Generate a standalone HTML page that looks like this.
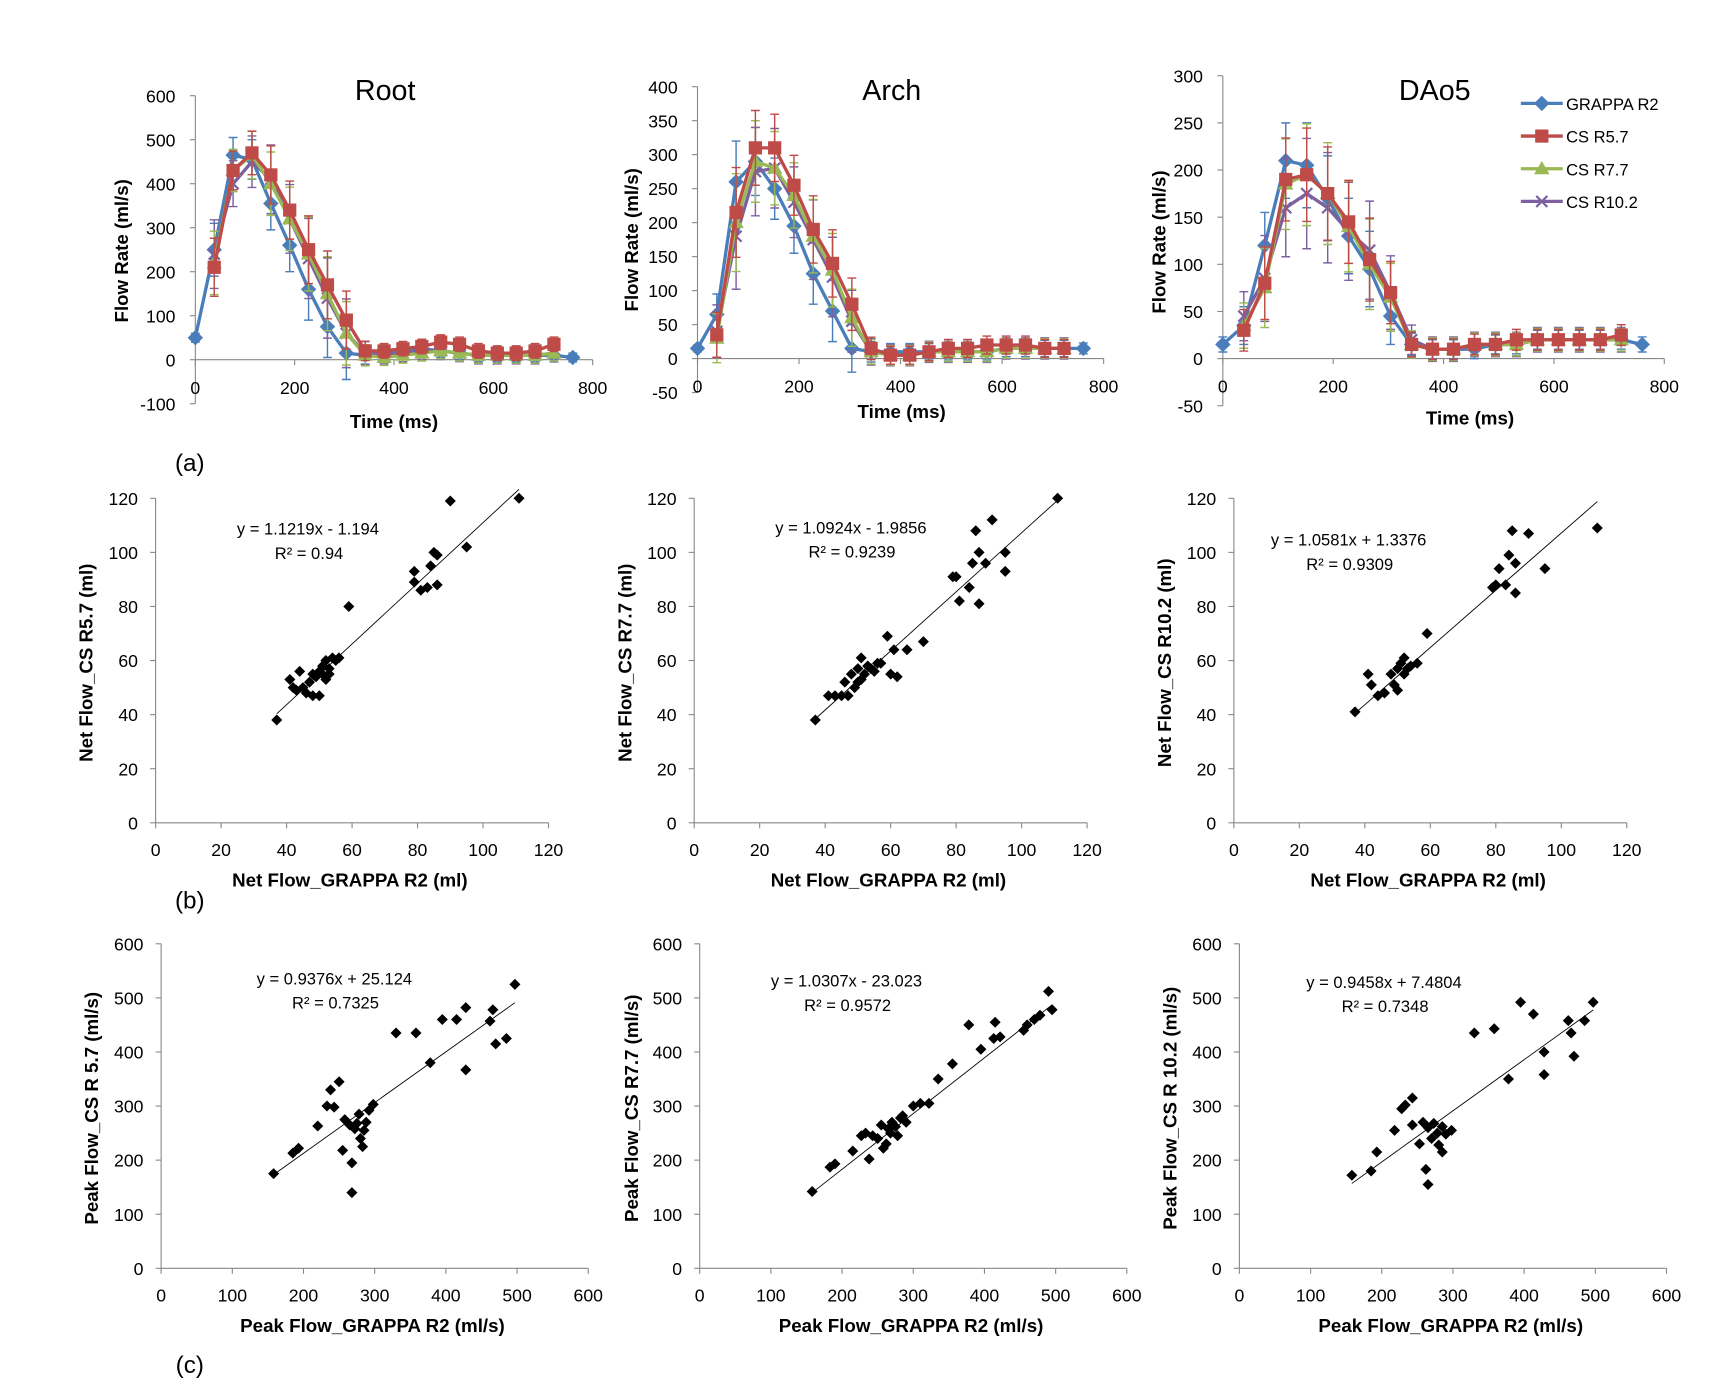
<!DOCTYPE html>
<html><head><meta charset="utf-8"><style>
html,body{margin:0;padding:0;background:#fff}
svg{display:block;font-family:"Liberation Sans",Arial,sans-serif}
</style></head><body>
<svg id="fig" width="1725" height="1397" viewBox="0 0 1563 1270" preserveAspectRatio="none" xmlns="http://www.w3.org/2000/svg"></svg>
<script>
// ---------- DATA ----------
const times = [0,38,76,114,152,190,228,266,304,342,380,418,456,494,532,570,608,646,684,722,760];
const seriesNames = ["GRAPPA R2","CS R5.7","CS R7.7","CS R10.2"];
const rootGrappa = [50,250,465,455,355,260,160,75,15,10,15,20,25,20,15,10,10,10,10,10,5];
const rootCS57 = [null,210,430,470,420,340,250,170,90,20,20,25,30,40,35,20,15,15,20,35,null];
const rootCS77 = [null,220,430,465,400,320,240,150,60,10,5,10,15,20,15,10,10,10,10,15,null];
const rootCS102 = [null,240,400,450,410,320,230,140,60,15,10,15,20,20,15,10,10,10,10,15,null];
const rootErr = [10,60,40,45,60,60,70,70,60,20,15,15,15,15,15,15,15,15,15,15,10];
const archGrappa = [15,65,260,290,250,195,125,70,15,10,10,10,10,10,10,10,15,15,15,15,15];
const archCS57 = [null,35,215,310,310,255,190,140,80,15,5,5,10,15,15,20,20,20,15,15,null];
const archCS77 = [null,30,200,290,280,240,180,130,60,10,5,5,10,10,10,10,15,15,15,15,null];
const archCS102 = [null,40,180,275,280,230,175,120,55,10,5,5,10,10,10,10,15,15,15,15,null];
const archErr = [5,30,60,50,45,40,45,45,35,15,12,12,12,12,12,12,12,12,12,12,8];
const daoGrappa = [15,35,120,210,205,170,130,95,45,15,10,10,10,15,15,20,20,20,20,20,15];
const daoCS57 = [null,30,80,190,195,175,145,105,70,15,10,10,15,15,20,20,20,20,20,25,null];
const daoCS77 = [null,35,75,185,195,175,140,100,65,15,10,10,15,15,15,20,20,20,20,20,null];
const daoCS102 = [null,45,85,160,175,160,135,115,70,20,10,10,15,15,15,20,20,20,20,20,null];
const daoErr = [8,20,35,40,45,45,40,40,30,12,10,10,10,10,10,10,10,10,10,10,8];

const netX1 = [37,41,42,43,44,45,46,47,48,48,49,50,50,51,51,52,52,53,53,54,55,56,59,79,79,81,83,84,85,86,86,90,95,111];
const netY1 = [38,53,50,49,56,50,48,52,55,47,54,56,47,55,58,53,60,55,57,61,60,61,80,93,89,86,87,95,100,99,88,119,102,120];
const netX2 = [37,41,43,45,46,47,48,49,50,50,51,51,52,53,54,55,56,57,59,60,61,62,65,70,79,80,81,84,85,86,87,87,89,91,95,95,111];
const netY2 = [38,47,47,47,52,47,55,50,52,57,53,61,55,58,57,56,59,59,69,55,64,54,64,67,91,91,82,87,96,108,100,81,96,112,93,100,120];
const netX3 = [37,41,42,44,46,48,49,50,50,51,52,52,53,54,56,59,79,80,81,83,84,85,86,86,90,95,111];
const netY3 = [41,55,51,47,48,55,51,57,49,59,55,61,57,58,59,70,87,88,94,88,99,108,96,85,107,94,109];

const peakX1 = [158,185,193,220,233,238,243,250,255,258,265,268,268,272,275,278,280,283,285,288,292,298,330,358,378,395,415,428,428,462,466,470,485,497];
const peakY1 = [175,213,222,263,300,330,298,345,218,275,265,195,140,258,268,285,240,225,255,270,292,303,435,435,380,460,460,482,367,457,478,415,425,525];
const peakX2 = [158,183,190,215,227,233,238,243,250,255,258,262,265,268,270,275,278,282,285,290,300,310,322,335,355,378,395,413,415,422,455,460,470,478,490,495];
const peakY2 = [142,187,193,217,245,250,202,245,240,265,222,230,258,250,270,262,245,278,282,270,300,305,305,350,378,450,405,425,455,428,440,450,460,468,512,478];
const peakX3 = [158,185,193,218,228,233,243,243,253,258,262,265,265,270,273,278,280,285,285,290,298,330,358,378,395,413,428,428,462,466,470,485,497];
const peakY3 = [172,180,215,255,295,302,315,265,230,270,183,155,260,240,268,250,228,215,262,248,255,435,443,350,492,470,358,400,458,435,392,458,492];

const xTicksTime = [0,200,400,600,800];
const netTicks = [0,20,40,60,80,100,120];
const peakTicks = [0,100,200,300,400,500,600];

// ---------- HELPERS ----------
const svg = document.getElementById('fig');
const NS = "http://www.w3.org/2000/svg";
function mk(tag, attrs, parent, text){
  const e = document.createElementNS(NS, tag);
  for (const k in attrs) e.setAttribute(k, attrs[k]);
  if (text !== undefined) e.textContent = text;
  (parent||svg).appendChild(e);
  return e;
}
function txt(x,y,s,size,anchor,parent,weight,rot){
  const a = {x:x,y:y,'font-size':size,'text-anchor':anchor||'middle',fill:'#000'};
  if (weight) a['font-weight']=weight;
  if (rot) a.transform = `rotate(-90 ${x} ${y})`;
  return mk('text',a,parent,s);
}
const colors = ["#4a7ebb","#be4b48","#98b954","#7d60a0"];

function marker(g,type,x,y,c){
  let m;
  if (type===0) m = mk('polygon',{points:`${x},${y-7} ${x+7},${y} ${x},${y+7} ${x-7},${y}`,fill:c},g);
  else if (type===1) m = mk('rect',{x:x-6,y:y-6,width:12,height:12,fill:c},g);
  else if (type===2) m = mk('polygon',{points:`${x},${y-7} ${x+7},${y+5} ${x-7},${y+5}`,fill:c},g);
  else m = mk('path',{d:`M${x-5} ${y-5}L${x+5} ${y+5}M${x-5} ${y+5}L${x+5} ${y-5}`,stroke:c,'stroke-width':2},g);
  
  
  return m;
}

// ---------- TIME-SERIES CHARTS ----------
function timeChart(cfg){
  const g = mk('g',{});
  const X = v => cfg.x0 + (v/800)*(cfg.x1-cfg.x0);
  const Y = v => cfg.yZero - v*cfg.ppu;
  mk('line',{x1:cfg.x0,y1:Y(cfg.yMax),x2:cfg.x0,y2:Y(cfg.yMin),stroke:'#888','stroke-width':1,},g);
  mk('line',{x1:cfg.x0,y1:Y(0),x2:cfg.x1,y2:Y(0),stroke:'#888','stroke-width':1,},g);
  for (let v=cfg.yMin; v<=cfg.yMax; v+=cfg.yStep){
    mk('line',{x1:cfg.x0-5,y1:Y(v),x2:cfg.x0,y2:Y(v),stroke:'#888'},g);
    const t=txt(cfg.x0-18,Y(v)+6,String(v),16,'end',g);  
  }
  xTicksTime.forEach(v=>{
    mk('line',{x1:X(v),y1:Y(0),x2:X(v),y2:Y(0)+5,stroke:'#888'},g);
    const t=txt(X(v),Y(0)+31,String(v),16,'middle',g);  
  });
  const tt=txt((cfg.x0+cfg.x1)/2-8,83+8,cfg.title,26,'middle',g);  
  const yt=txt(cfg.ytx,cfg.ytY,'Flow Rate (ml/s)',17,'middle',g,'bold',true);  
  const xt=txt(cfg.xtX,cfg.xtY,'Time (ms)',17,'middle',g,'bold');  
  const order=[0,3,2,1];
  order.forEach(si=>{
    const data = cfg.series[si];
    const sg = mk('g',{},g);
    let d='';
    data.forEach((v,i)=>{ if(v===null) return; d += (d?'L':'M')+X(times[i])+' '+Y(v); });
    data.forEach((v,i)=>{
      if(v===null) return;
      const e = cfg.err[i]*(1+si*0.1);
      const x=X(times[i]);
      mk('path',{d:`M${x} ${Y(v-e)}L${x} ${Y(v+e)}M${x-4} ${Y(v-e)}L${x+4} ${Y(v-e)}M${x-4} ${Y(v+e)}L${x+4} ${Y(v+e)}`,stroke:colors[si],'stroke-width':1.3,fill:'none'},sg);
    });
    const p = mk('path',{d:d,stroke:colors[si],'stroke-width':3,fill:'none','stroke-linejoin':'round'},sg);
    
    
    data.forEach((v,i)=>{ if(v===null) return; marker(sg,si,X(times[i]),Y(v),colors[si]); });
  });
}
timeChart({name:'root-chart',title:'Root',x0:177,x1:537,yZero:327,ppu:0.4,yMin:-100,yMax:600,yStep:100,ytx:116,ytY:228,xtX:357,xtY:389,
  series:[rootGrappa,rootCS57,rootCS77,rootCS102],err:rootErr});
timeChart({name:'arch-chart',title:'Arch',x0:632,x1:1000,yZero:326,ppu:30.9/50,yMin:-50,yMax:400,yStep:50,ytx:578,ytY:218,xtX:817,xtY:380,
  series:[archGrappa,archCS57,archCS77,archCS102],err:archErr});
timeChart({name:'dao5-chart',title:'DAo5',x0:1108,x1:1508,yZero:326,ppu:42.86/50,yMin:-50,yMax:300,yStep:50,ytx:1056,ytY:220,xtX:1332,xtY:386,
  series:[daoGrappa,daoCS57,daoCS77,daoCS102],err:daoErr});

const lg = mk('g',{});
seriesNames.forEach((n,i)=>{
  const y = 94 + i*29.7;
  const eg = mk('g',{},lg);
  mk('line',{x1:1378,y1:y,x2:1416,y2:y,stroke:colors[i],'stroke-width':3},eg);
  marker(eg,i,1397,y,colors[i]);
  txt(1419,y+6,n,15,'start',eg);
});

// ---------- SCATTER CHARTS ----------
function scatter(cfg){
  const g = mk('g',{});
  const max = cfg.ticks[cfg.ticks.length-1];
  const X = v => cfg.x0 + v/max*(cfg.x1-cfg.x0);
  const Y = v => cfg.y0 - v/max*(cfg.y0-cfg.y1);
  mk('line',{x1:cfg.x0,y1:cfg.y1,x2:cfg.x0,y2:cfg.y0,stroke:'#888',},g);
  mk('line',{x1:cfg.x0,y1:cfg.y0,x2:cfg.x1,y2:cfg.y0,stroke:'#888',},g);
  cfg.ticks.forEach(v=>{
    mk('line',{x1:cfg.x0-5,y1:Y(v),x2:cfg.x0,y2:Y(v),stroke:'#888'},g);
    mk('line',{x1:X(v),y1:cfg.y0,x2:X(v),y2:cfg.y0+5,stroke:'#888'},g);
    const a=txt(cfg.x0-16,Y(v)+6,String(v),16,'end',g);  
    const b=txt(X(v),cfg.y0+30,String(v),16,'middle',g);  
  });
  const yt=txt(cfg.ytx,(cfg.y0+cfg.y1)/2+2,cfg.ytitle,17,'middle',g,'bold',true);  
  const xt=txt((cfg.x0+cfg.x1)/2-2,cfg.y0+58,cfg.xtitle,17,'middle',g,'bold');  
  const lo=Math.min(...cfg.xs), hi=Math.max(...cfg.xs);
  const tl=mk('line',{x1:X(lo),y1:Y(cfg.m*lo+cfg.b),x2:X(hi),y2:Y(cfg.m*hi+cfg.b),stroke:'#000','stroke-width':0.8},g);
   
  cfg.xs.forEach((xv,i)=>{
    const x=X(xv), y=Y(cfg.ys[i]);
    const p=mk('polygon',{points:`${x},${y-5} ${x+5},${y} ${x},${y+5} ${x-5},${y}`,fill:'#000'},g);
     
  });
  const e1=txt(cfg.ex,cfg.ey,cfg.eq,15,'middle',g);  
  const e2=txt(cfg.ex+1,cfg.ey+22,cfg.r2,15,'middle',g);  
}
const nx='Net Flow_GRAPPA R2 (ml)', px='Peak Flow_GRAPPA R2 (ml/s)';
scatter({name:'net-flow-r57',x0:141,x1:497,y0:748,y1:453,ticks:netTicks,xs:netX1,ys:netY1,m:1.1219,b:-1.194,eq:'y = 1.1219x - 1.194',r2:'R² = 0.94',ex:279,ey:486,ytitle:'Net Flow_CS R5.7 (ml)',ytx:84,xtitle:nx});
scatter({name:'net-flow-r77',x0:629,x1:985,y0:748,y1:453,ticks:netTicks,xs:netX2,ys:netY2,m:1.0924,b:-1.9856,eq:'y = 1.0924x - 1.9856',r2:'R² = 0.9239',ex:771,ey:485,ytitle:'Net Flow_CS R7.7 (ml)',ytx:572,xtitle:nx});
scatter({name:'net-flow-r102',x0:1118,x1:1474,y0:748,y1:453,ticks:netTicks,xs:netX3,ys:netY3,m:1.0581,b:1.3376,eq:'y = 1.0581x + 1.3376',r2:'R² = 0.9309',ex:1222,ey:496,ytitle:'Net Flow_CS R10.2 (ml)',ytx:1061,xtitle:nx});
scatter({name:'peak-flow-r57',x0:146,x1:533,y0:1153,y1:858,ticks:peakTicks,xs:peakX1,ys:peakY1,m:0.9376,b:25.124,eq:'y = 0.9376x + 25.124',r2:'R² = 0.7325',ex:303,ey:895,ytitle:'Peak Flow_CS R 5.7 (ml/s)',ytx:89,xtitle:px});
scatter({name:'peak-flow-r77',x0:634,x1:1021,y0:1153,y1:858,ticks:peakTicks,xs:peakX2,ys:peakY2,m:1.0307,b:-23.023,eq:'y = 1.0307x - 23.023',r2:'R² = 0.9572',ex:767,ey:897,ytitle:'Peak Flow_CS R7.7 (ml/s)',ytx:578,xtitle:px});
scatter({name:'peak-flow-r102',x0:1123,x1:1510,y0:1153,y1:858,ticks:peakTicks,xs:peakX3,ys:peakY3,m:0.9458,b:7.4804,eq:'y = 0.9458x + 7.4804',r2:'R² = 0.7348',ex:1254,ey:898,ytitle:'Peak Flow_CS R 10.2 (ml/s)',ytx:1066,xtitle:px});

[['(a)',428],['(b)',826],['(c)',1248]].forEach(([s,y])=>{
  const t=txt(172,y,s,22,'middle');  
});
</script>
</body></html>
